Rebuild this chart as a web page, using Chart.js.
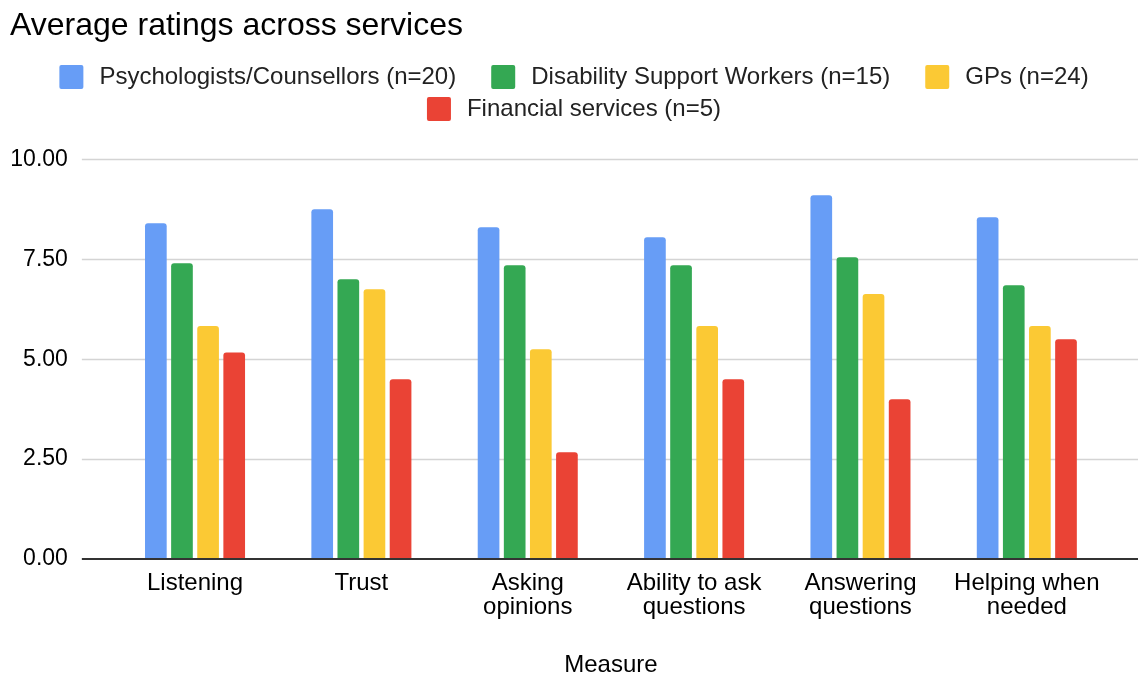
<!DOCTYPE html>
<html>
<head>
<meta charset="utf-8">
<script src="https://cdn.jsdelivr.net/npm/chart.js@4"></script>
<style>
  html, body { margin: 0; padding: 0; background: #fff; }
  #wrap { width: 1138px; height: 677px; }
</style>
</head>
<body>
<div id="wrap"><canvas id="ratingsChart"></canvas></div>
<script>
var measures = [
    ["Listening"],
    ["Trust"],
    ["Asking", "opinions"],
    ["Ability to ask", "questions"],
    ["Answering", "questions"],
    ["Helping when", "needed"]
];

var psychologists = [8.40, 8.75, 8.30, 8.05, 9.10, 8.55];
var supportWorkers = [7.40, 7.00, 7.35, 7.35, 7.55, 6.85];
var gps = [5.83, 6.75, 5.25, 5.83, 6.63, 5.83];
var financial = [5.17, 4.50, 2.67, 4.50, 4.00, 5.50];

var yTicks = [0, 2.5, 5, 7.5, 10];

Chart.defaults.font.family = '"Liberation Sans", Arial, Helvetica, sans-serif';
Chart.defaults.color = "#222";

// grid lines run a little past the plot on both sides, baseline drawn dark on top
var wideGrid = {
    id: "wideGrid",
    beforeDatasetsDraw: function (chart) {
        var ctx = chart.ctx, y = chart.scales.y;
        var left = chart.chartArea.left - 30, right = chart.width;
        ctx.save();
        ctx.strokeStyle = "#d4d4d4";
        ctx.lineWidth = 1.3;
        yTicks.forEach(function (v) {
            if (v === 0) return;
            var py = Math.round(y.getPixelForValue(v)) + 0.5;
            ctx.beginPath();
            ctx.moveTo(left, py);
            ctx.lineTo(right, py);
            ctx.stroke();
        });
        ctx.restore();
    },
    afterDatasetsDraw: function (chart) {
        var ctx = chart.ctx, y = chart.scales.y;
        var py = y.getPixelForValue(0);
        ctx.save();
        ctx.strokeStyle = "#333";
        ctx.lineWidth = 2;
        ctx.beginPath();
        ctx.moveTo(chart.chartArea.left - 30, py);
        ctx.lineTo(chart.width, py);
        ctx.stroke();
        ctx.restore();
    }
};

// legend in centred rows under the title
var rowLegend = {
    id: "rowLegend",
    afterDraw: function (chart) {
        var ctx = chart.ctx;
        var box = 24, textGap = 16, itemGap = 35, rowH = 32, top = 65;
        var maxW = chart.width - 20, centre = chart.width / 2 + 5;
        ctx.save();
        ctx.font = "24px " + Chart.defaults.font.family;
        ctx.textBaseline = "middle";
        var rows = [[]], rowW = [0];
        chart.data.datasets.forEach(function (ds) {
            var w = box + textGap + ctx.measureText(ds.label).width;
            var r = rows.length - 1;
            var add = rows[r].length ? itemGap + w : w;
            if (rows[r].length && rowW[r] + add > maxW) {
                rows.push([]); rowW.push(0); r++;
                add = w;
            }
            rows[r].push({ ds: ds, w: w });
            rowW[r] += add;
        });
        rows.forEach(function (row, i) {
            var x = centre - rowW[i] / 2;
            var cy = top + i * rowH + box / 2;
            row.forEach(function (item) {
                ctx.fillStyle = item.ds.backgroundColor;
                ctx.beginPath();
                ctx.roundRect(x, cy - box / 2, box, box, 2);
                ctx.fill();
                ctx.fillStyle = "#222";
                ctx.fillText(item.ds.label, x + box + textGap, cy);
                x += item.w + itemGap;
            });
        });
        ctx.restore();
    }
};

var barStyle = {
    borderRadius: { topLeft: 3, topRight: 3 },
    borderSkipped: "bottom",
    categoryPercentage: 0.628,
    barPercentage: 0.83
};

new Chart("ratingsChart", {
    type: "bar",
    data: {
        labels: measures,
        datasets: [
            Object.assign({ label: "Psychologists/Counsellors (n=20)", data: psychologists, backgroundColor: "#679df6" }, barStyle),
            Object.assign({ label: "Disability Support Workers (n=15)", data: supportWorkers, backgroundColor: "#34a853" }, barStyle),
            Object.assign({ label: "GPs (n=24)", data: gps, backgroundColor: "#fbc934" }, barStyle),
            Object.assign({ label: "Financial services (n=5)", data: financial, backgroundColor: "#ea4335" }, barStyle)
        ]
    },
    plugins: [wideGrid, rowLegend],
    options: {
        responsive: true,
        maintainAspectRatio: false,
        animation: false,
        layout: {
            padding: { left: 10, right: 28, top: 0, bottom: 0 }
        },
        plugins: {
            legend: { display: false },
            tooltip: { enabled: false },
            title: {
                display: true,
                text: "Average ratings across services",
                align: "start",
                color: "#000",
                font: { size: 32, weight: "normal", lineHeight: 1.2 },
                padding: { top: 7, bottom: 114 }
            }
        },
        scales: {
            x: {
                grid: { display: false, drawTicks: false },
                border: { display: false },
                ticks: {
                    color: "#000",
                    font: { size: 24, lineHeight: 1.0 },
                    padding: 12,
                    maxRotation: 0,
                    autoSkip: false
                },
                title: {
                    display: true,
                    text: "Measure",
                    color: "#000",
                    font: { size: 24, lineHeight: 1.0 },
                    padding: { top: 22, bottom: 0 }
                }
            },
            y: {
                min: 0,
                max: 10,
                afterBuildTicks: function (scale) {
                    scale.ticks = yTicks.map(function (v) { return { value: v }; });
                },
                afterFit: function (scale) {
                    scale.width = 101.85;
                },
                grid: { display: false, drawTicks: false },
                border: { display: false },
                ticks: {
                    color: "#000",
                    font: { size: 23 },
                    padding: 44,
                    callback: function (v) { return Number(v).toFixed(2); }
                }
            }
        }
    }
});
</script>
</body>
</html>
